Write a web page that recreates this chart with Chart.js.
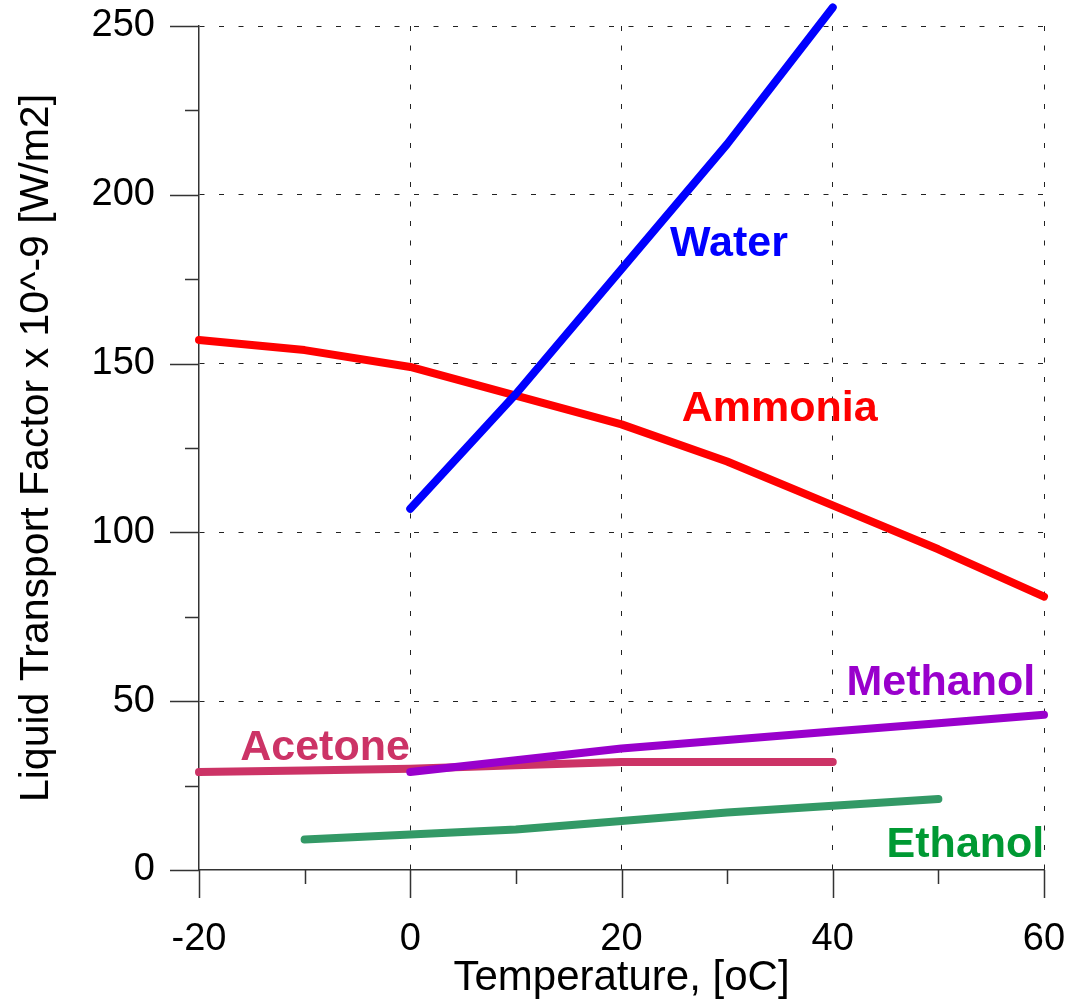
<!DOCTYPE html>
<html>
<head>
<meta charset="utf-8">
<script src="https://cdn.jsdelivr.net/npm/chart.js@4/dist/chart.umd.min.js"></script>
<style>
  html, body { margin: 0; padding: 0; background: #fff; }
  canvas { display: block; }
</style>
</head>
<body>
<canvas id="chart" width="1065" height="1004"></canvas>
<script>
// temperatures (oC) and liquid transport factor (x 10^-9 W/m2) per fluid
var waterTemps = [0, 10, 20, 30, 40];
var waterVals = [107, 141, 178, 215, 255.5];

var ammoniaTemps = [-20, -10, 0, 10, 20, 30, 40, 50, 60];
var ammoniaVals = [157, 154, 149, 140.5, 132, 121, 108, 95, 81];

var methanolTemps = [0, 10, 20, 30, 40, 50, 60];
var methanolVals = [29, 32.5, 36, 38.5, 41, 43.5, 46];

var acetoneTemps = [-20, -10, 0, 10, 20, 30, 40];
var acetoneVals = [29, 29.5, 30, 31, 32, 32, 32];

var ethanolTemps = [-10, 0, 10, 20, 30, 40, 50];
var ethanolVals = [9, 10.5, 12, 14.5, 17, 19, 21];

var xTickStep = 10;
var yTickStep = 25;

// curve names written on the plot, anchored in data units (left, baseline)
var curveNames = ['Water', 'Ammonia', 'Methanol', 'Acetone', 'Ethanol'];
var nameX = [24.6, 25.7, 41.3, -16.1, 45.1];
var nameY = [181.8, 132.9, 51.9, 32.6, 3.9];
var nameColors = ['#0000ff', '#ff0000', '#9900cc', '#cc3366', '#009933'];

function pts(xs, ys) {
  return xs.map(function (x, i) { return { x: x, y: ys[i] }; });
}

function series(label, xs, ys, color) {
  return {
    label: label,
    data: pts(xs, ys),
    borderColor: color,
    backgroundColor: color,
    borderWidth: 8,
    borderCapStyle: 'round',
    borderJoinStyle: 'round',
    pointRadius: 0,
    tension: 0,
    clip: false
  };
}

var gridColor = '#222222';
var tickFont = { family: "'Liberation Sans', Arial, sans-serif", size: 38 };
var xTitleFont = { family: "'Liberation Sans', Arial, sans-serif", size: 42, lineHeight: 1.2 };
var yTitleFont = { family: "'Liberation Sans', Arial, sans-serif", size: 41, lineHeight: 1.2 };

// no extra room for edge labels, the plot box is fixed by layout padding
function noEdgePadding(scale) {
  scale.paddingTop = 0;
  scale.paddingBottom = 0;
  scale.paddingLeft = 0;
  scale.paddingRight = 0;
}

// tick marks: long for labelled ticks, short for the minor ones
var tickMarks = {
  id: 'tickMarks',
  afterDraw: function (chart) {
    var ctx = chart.ctx;
    var xs = chart.scales.x, ys = chart.scales.y;
    var area = chart.chartArea;
    ctx.save();
    ctx.strokeStyle = '#333333';
    ctx.lineWidth = 1.5;
    ctx.beginPath();
    xs.ticks.forEach(function (t) {
      var px = Math.round(xs.getPixelForValue(t.value)) + 0.5;
      var len = (t.value % 20 === 0) ? 28 : 14;
      ctx.moveTo(px, area.bottom);
      ctx.lineTo(px, area.bottom + len);
    });
    ys.ticks.forEach(function (t) {
      var py = Math.round(ys.getPixelForValue(t.value)) + 0.5;
      var len = (t.value % 50 === 0) ? 29 : 14;
      ctx.moveTo(area.left, py);
      ctx.lineTo(area.left - len, py);
    });
    ctx.stroke();
    ctx.restore();
  }
};

var curveLabels = {
  id: 'curveLabels',
  afterDatasetsDraw: function (chart) {
    var ctx = chart.ctx;
    var xs = chart.scales.x, ys = chart.scales.y;
    var area = chart.chartArea;
    ctx.save();
    ctx.beginPath();
    ctx.rect(0, 0, area.right, chart.height);
    ctx.clip();
    ctx.font = "bold 43px 'Liberation Sans', Arial, sans-serif";
    ctx.textAlign = 'left';
    ctx.textBaseline = 'alphabetic';
    curveNames.forEach(function (name, i) {
      ctx.fillStyle = nameColors[i];
      ctx.fillText(name, xs.getPixelForValue(nameX[i]), ys.getPixelForValue(nameY[i]));
    });
    ctx.restore();
  }
};

new Chart(document.getElementById('chart'), {
  type: 'line',
  data: {
    datasets: [
      series('Water', waterTemps, waterVals, '#0000ff'),
      series('Methanol', methanolTemps, methanolVals, '#9900cc'),
      series('Ammonia', ammoniaTemps, ammoniaVals, '#ff0000'),
      series('Acetone', acetoneTemps, acetoneVals, '#cc3366'),
      series('Ethanol', ethanolTemps, ethanolVals, '#339966')
    ]
  },
  options: {
    responsive: false,
    devicePixelRatio: 1,
    animation: false,
    layout: { padding: { top: 26, right: 21, left: 0, bottom: 0 } },
    plugins: {
      legend: { display: false },
      tooltip: { enabled: false }
    },
    scales: {
      x: {
        type: 'linear',
        min: -20,
        max: 60,
        afterFit: function (scale) { scale.height = 134; noEdgePadding(scale); },
        ticks: {
          stepSize: xTickStep,
          autoSkip: false,
          maxRotation: 0,
          padding: 19,
          color: '#000',
          font: tickFont,
          callback: function (v) { return v % 20 === 0 ? String(v) : ''; }
        },
        grid: {
          color: function (c) {
            if (!c.tick) return 'transparent';
            var v = c.tick.value;
            return (v % 20 === 0 && v !== -20) ? gridColor : 'transparent';
          },
          lineWidth: 1,
          tickLength: 28,
          tickColor: 'transparent'
        },
        border: { display: true, color: '#333333', width: 1.5, dash: [5, 14.5] },
        title: {
          display: true,
          text: 'Temperature, [oC]',
          color: '#000',
          font: xTitleFont,
          padding: { top: 0, bottom: 0 }
        }
      },
      y: {
        type: 'linear',
        min: 0,
        max: 250,
        afterFit: function (scale) { scale.width = 199; noEdgePadding(scale); },
        ticks: {
          stepSize: yTickStep,
          autoSkip: false,
          padding: 15,
          color: '#000',
          font: tickFont,
          callback: function (v) { return v % 50 === 0 ? String(v) : ''; }
        },
        grid: {
          color: function (c) {
            if (!c.tick) return 'transparent';
            var v = c.tick.value;
            return (v % 50 === 0 && v !== 0) ? gridColor : 'transparent';
          },
          lineWidth: 1,
          tickLength: 29,
          tickColor: 'transparent'
        },
        border: { display: true, color: '#333333', width: 1.5, dash: [5, 14.5] },
        title: {
          display: true,
          text: 'Liquid Transport Factor x 10^-9 [W/m2]',
          color: '#000',
          font: yTitleFont,
          padding: { top: 12, bottom: 0 }
        }
      }
    }
  },
  plugins: [tickMarks, curveLabels]
});
</script>
</body>
</html>
